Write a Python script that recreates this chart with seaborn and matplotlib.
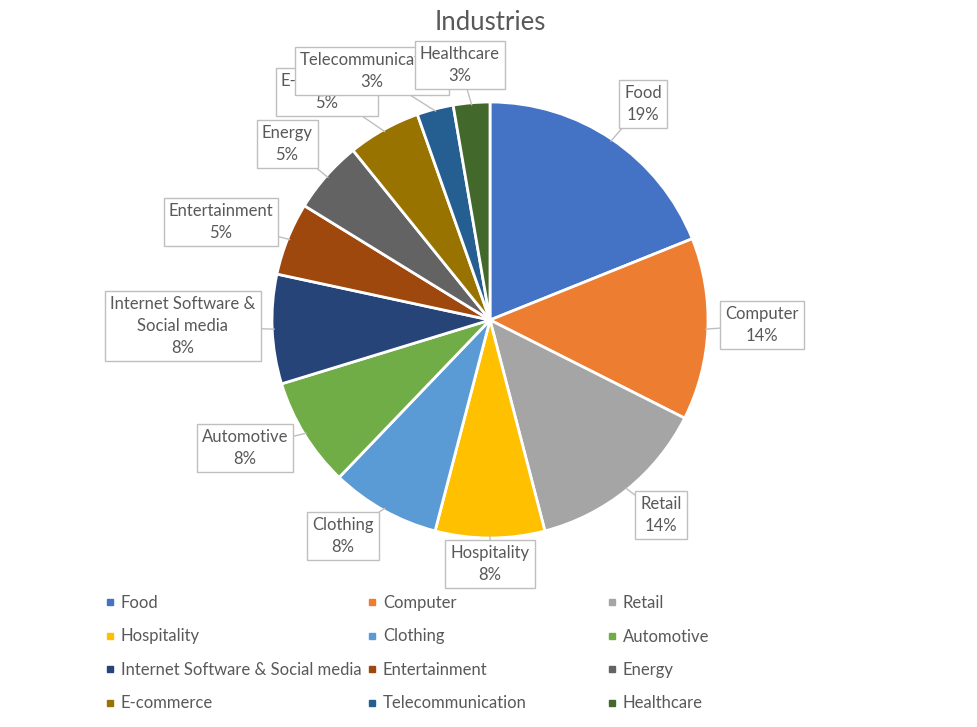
import matplotlib
matplotlib.use('Agg')

import numpy as np
import matplotlib.pyplot as plt
from matplotlib.lines import Line2D
import seaborn as sns

# ------------------------------------------------------------------
# data (counts per industry, shares shown as rounded percentages)
# ------------------------------------------------------------------
industries = ['Food', 'Computer', 'Retail', 'Hospitality', 'Clothing', 'Automotive',
              'Internet Software & Social media', 'Entertainment', 'Energy',
              'E-commerce', 'Telecommunication', 'Healthcare']
counts = [7, 5, 5, 3, 3, 3, 3, 2, 2, 2, 1, 1]
label_text = ['Food', 'Computer', 'Retail', 'Hospitality', 'Clothing', 'Automotive',
              'Internet Software &\nSocial media', 'Entertainment', 'Energy',
              'E-commerce', 'Telecommunication', 'Healthcare']

colors = ['#4472C4', '#ED7D31', '#A5A5A5', '#FFC000', '#5B9BD5', '#70AD47',
          '#264478', '#9E480E', '#636363', '#997300', '#255E91', '#43682B']

# callout box centres in pixels (layout)
label_px = [(643, 104), (762, 325), (661, 515), (490, 564), (343, 536), (245, 448),
            (183, 326), (221, 222), (287, 144), (327, 92), (372, 71), (460, 65)]

W, H = 977, 727
CX, CY, R = 490, 320, 218   # pie centre / radius in pixels

sns.set_theme(style='white')
plt.rcParams['font.family'] = ['Lato', 'DejaVu Sans']
TXT = '#595959'

fig = plt.figure(figsize=(W / 100, H / 100), dpi=100)
ax = fig.add_axes([0, 0, 1, 1])

wedges, _ = ax.pie(counts, colors=colors, startangle=90, counterclock=False,
                   radius=1, center=(0, 0),
                   wedgeprops=dict(edgecolor='white', linewidth=2))
ax.set_aspect('auto')
ax.set_xlim(-CX / R, (W - CX) / R)
ax.set_ylim((CY - H) / R, CY / R)
ax.axis('off')


def to_data(px, py):
    return (px - CX) / R, (CY - py) / R


total = sum(counts)
for i, (w, lab) in enumerate(zip(wedges, label_text)):
    ang = np.deg2rad((w.theta1 + w.theta2) / 2)
    rim = (0.99 * np.cos(ang), 0.99 * np.sin(ang))
    pct = round(100 * counts[i] / total)
    ax.annotate(f'{lab}\n{pct}%', xy=rim, xytext=to_data(*label_px[i]),
                ha='center', va='center', fontsize=12, color=TXT,
                linespacing=1.45, zorder=5 + i,
                bbox=dict(boxstyle='square,pad=0.3', fc='white', ec='#BFBFBF', lw=1),
                arrowprops=dict(arrowstyle='-', color='#BFBFBF', lw=1,
                                shrinkA=0, shrinkB=0))

fig.text(CX / W, 1 - 23 / H, 'Industries', ha='center', va='center',
         fontsize=18.5, color=TXT)

# legend: three columns, filled row by row
col_x = [105, 367, 607]
for c in range(3):
    idx = list(range(c, len(industries), 3))
    handles = [Line2D([], [], marker='s', linestyle='', color=colors[k], markersize=5)
               for k in idx]
    leg = fig.legend(handles, [industries[k] for k in idx], loc='upper left',
                     bbox_to_anchor=(col_x[c] / W, 1 - 595 / H),
                     frameon=False, fontsize=12, handlelength=0.55,
                     handletextpad=0.4, labelspacing=1.05,
                     borderpad=0, borderaxespad=0)
    for t in leg.get_texts():
        t.set_color(TXT)

fig.savefig('out.png', dpi=100, facecolor='white')
